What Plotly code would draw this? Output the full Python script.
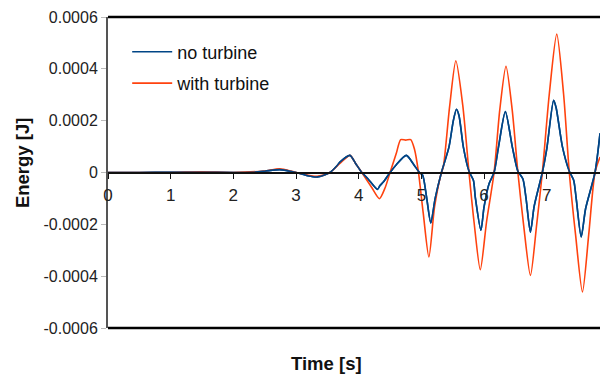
import numpy as np
import plotly.graph_objects as go

# Time [s] and energy values (in units of 1e-4 J)
t_no = [0.0, 0.5, 1.0, 1.5, 2.0, 2.3, 2.5, 2.74, 3.0, 3.18, 3.34, 3.54, 3.65, 3.7, 3.86, 3.95,
        4.05, 4.15, 4.30, 4.34, 4.40, 4.50, 4.60, 4.76, 4.88, 4.97, 5.02, 5.08, 5.15, 5.22, 5.32,
        5.44, 5.51, 5.56, 5.60, 5.67, 5.76, 5.83, 5.86, 5.95, 6.00, 6.08, 6.16, 6.23, 6.34, 6.45,
        6.54, 6.62, 6.67, 6.74, 6.80, 6.93, 7.00, 7.11, 7.15, 7.25, 7.36, 7.43, 7.47, 7.55, 7.62,
        7.77, 7.85]
e_no = [0.0, 0.0, 0.01, 0.01, 0.0, 0.01, 0.05, 0.11, 0.0, -0.12, -0.17, 0.0, 0.25, 0.4, 0.66, 0.35,
        0.0, -0.25, -0.65, -0.5, -0.35, 0.0, 0.3, 0.66, 0.3, 0.0, -0.1, -0.9, -1.95, -1.0, 0.0,
        0.98, 2.0, 2.44, 2.2, 0.98, 0.05, -0.3, -0.95, -2.23, -1.33, -0.43, 0.0, 0.98, 2.35, 1.0,
        0.05, -0.25, -1.0, -2.30, -1.3, 0.0, 0.9, 2.79, 2.5, 1.0, 0.05, -0.3, -1.0, -2.49, -1.4,
        0.0, 1.51]

t_with = [0.0, 1.0, 1.5, 2.0, 2.5, 2.74, 3.0, 3.34, 3.54, 3.70, 3.86, 3.95, 4.05, 4.20, 4.33,
          4.42, 4.50, 4.60, 4.67, 4.75, 4.83, 4.89, 4.95, 5.03, 5.12, 5.21, 5.32, 5.35, 5.45,
          5.55, 5.66, 5.76, 5.84, 5.94, 6.04, 6.16, 6.25, 6.35, 6.45, 6.54, 6.63, 6.74, 6.84,
          6.93, 7.04, 7.16, 7.27, 7.36, 7.46, 7.57, 7.67, 7.77, 7.85]
e_with = [0.0, 0.0, 0.03, 0.0, 0.06, 0.14, 0.0, -0.15, 0.0, 0.35, 0.66, 0.35, 0.0, -0.55, -1.01,
          -0.6, 0.0, 0.74, 1.27, 1.25, 1.27, 0.9, 0.08, -1.58, -3.26, -1.33, 0.0, 0.21, 2.53,
          4.31, 2.6, 0.0, -1.9, -3.75, -1.9, 0.0, 2.4, 4.10, 2.4, 0.0, -2.0, -3.97, -2.0,
          0.0, 3.0, 5.34, 3.0, 0.0, -2.4, -4.61, -2.4, 0.0, 0.6]

y_tick_vals = [-6e-4, -4e-4, -2e-4, 0, 2e-4, 4e-4, 6e-4]
y_tick_text = ["-0.0006", "-0.0004", "-0.0002", "0", "0.0002", "0.0004", "0.0006"]
x_tick_vals = [0, 1, 2, 3, 4, 5, 6, 7]
x_tick_text = ["0", "1", "2", "3", "4", "5", "6", "7"]

scale = 1e-4
FONT = "Liberation Sans, Arial, sans-serif"

fig = go.Figure()
fig.add_trace(go.Scatter(x=t_no, y=np.array(e_no) * scale, mode="lines", name="no turbine",
                         legendgroup="a",
                         line=dict(color="#004586", width=1.6, shape="spline", smoothing=0.7)))
fig.add_trace(go.Scatter(x=t_with, y=np.array(e_with) * scale, mode="lines", name="with turbine",
                         legendgroup="b",
                         line=dict(color="#ff420e", width=1.6, shape="spline", smoothing=0.7)))
# redraw blue on top
fig.add_trace(go.Scatter(x=t_no, y=np.array(e_no) * scale, mode="lines", showlegend=False,
                         line=dict(color="#004586", width=1.6, shape="spline", smoothing=0.7),
                         hoverinfo="skip"))

fig.update_layout(
    width=600, height=376,
    margin=dict(l=108, r=0, t=17, b=48),
    paper_bgcolor="white", plot_bgcolor="white",
    font=dict(family=FONT, size=16, color="#222"),
    showlegend=True,
    legend=dict(x=0.039, y=0.947, xanchor="left", yanchor="top", bgcolor="rgba(0,0,0,0)",
                font=dict(size=18, color="#111"), traceorder="grouped", tracegroupgap=5,
                itemwidth=40),
    xaxis=dict(range=[0, 7.85], anchor="free", position=0.5, showgrid=False, zeroline=False,
               showline=True, linecolor="#111", linewidth=1.5,
               tickvals=x_tick_vals, ticktext=x_tick_text, ticks="outside", ticklen=6,
               tickcolor="#111", tickwidth=1.2, tickfont=dict(size=17, color="#222"),
               ticklabelstandoff=1),
    yaxis=dict(range=[-6e-4, 6e-4], showgrid=False, zeroline=False,
               showline=True, linecolor="#555", linewidth=2,
               tickvals=y_tick_vals, ticktext=y_tick_text, ticks="outside", ticklen=5,
               tickcolor="#bbb", tickwidth=1.2, tickfont=dict(size=16, color="#222")),
    shapes=[
        dict(type="line", xref="paper", yref="paper", x0=0, x1=1, y0=1, y1=1,
             line=dict(color="#000", width=2.5)),
        dict(type="line", xref="paper", yref="paper", x0=0, x1=1, y0=0, y1=0,
             line=dict(color="#000", width=2.5)),
    ],
    annotations=[
        dict(text="<b>Time [s]</b>", xref="paper", yref="paper", x=0.445, y=-0.113,
             xanchor="center", yanchor="middle", showarrow=False,
             font=dict(size=18.5, color="#111")),
        dict(text="<b>Energy [J]</b>", xref="paper", yref="paper", x=-0.175, y=0.53,
             xanchor="center", yanchor="middle", showarrow=False, textangle=-90,
             font=dict(size=18.5, color="#111")),
    ],
)

fig.write_html("out.html", config={"displayModeBar": False},
               post_script="document.body.style.margin='0';")
